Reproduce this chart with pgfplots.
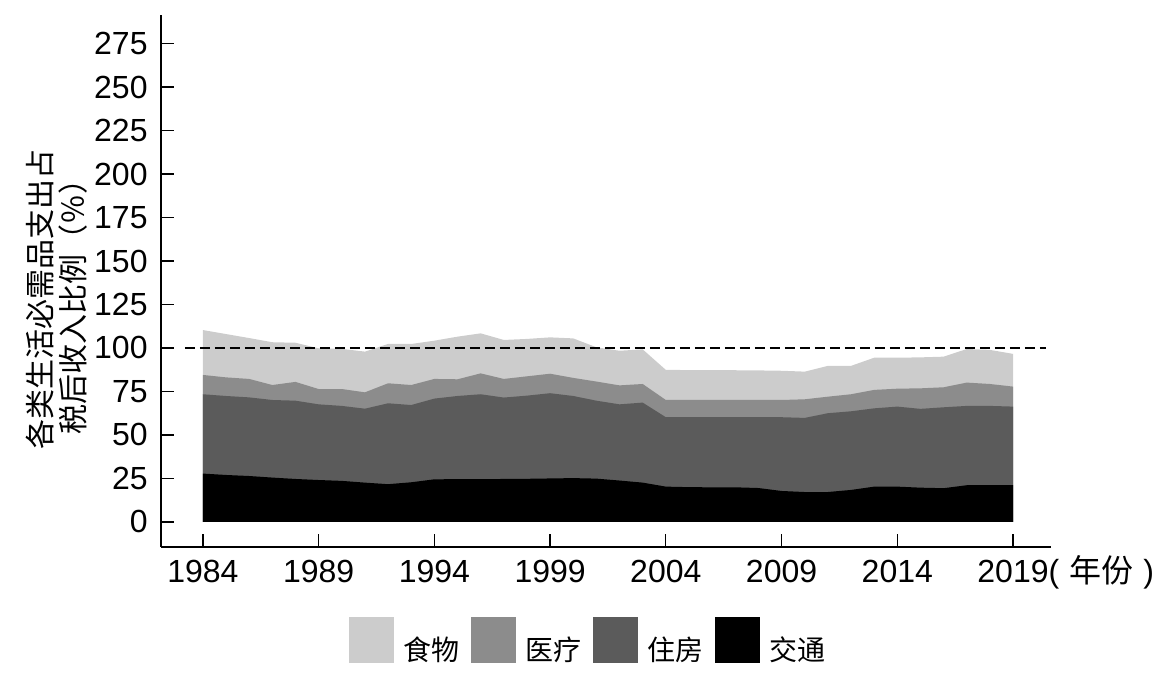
\documentclass[border=0pt]{standalone}
\usepackage{pgfplots}
\pgfplotsset{compat=1.18}
\usepackage{pgfplotstable}
\usepackage{fontspec}
\setmainfont{Liberation Sans}
\newfontfamily\cjk{Noto Sans CJK SC}
\definecolor{foodc}{RGB}{204,204,204}
\definecolor{medc}{RGB}{140,140,140}
\definecolor{housec}{RGB}{91,91,91}
\definecolor{transc}{RGB}{0,0,0}
\pgfplotstableread{
year food med house trans
1984 110.3 84.5 73.4 27.8
1985 108.0 83.1 72.4 27.0
1986 105.7 82.2 71.6 26.4
1987 103.3 78.7 70.1 25.5
1988 103.0 80.5 69.7 24.7
1989 99.8 76.4 67.6 24.1
1990 99.5 76.4 66.7 23.6
1991 97.9 74.5 65.1 22.6
1992 102.3 79.7 68.2 21.7
1993 102.3 78.7 67.2 22.8
1994 104.2 82.2 70.9 24.5
1995 106.5 82.0 72.4 24.6
1996 108.4 85.4 73.4 24.6
1997 104.6 82.2 71.5 24.7
1998 105.2 83.7 72.6 24.8
1999 106.1 85.2 74.0 25.0
2000 105.5 82.8 72.4 25.2
2001 100.4 80.7 69.7 24.9
2002 98.4 78.5 67.6 23.8
2003 99.2 79.3 68.6 22.6
2004 87.4 70.1 60.2 20.3
2005 87.3 70.1 60.2 20.0
2006 87.3 70.1 60.2 19.9
2007 87.2 70.1 60.2 19.9
2008 87.1 70.1 60.2 19.5
2009 86.9 70.1 60.2 17.8
2010 86.4 70.5 59.8 17.2
2011 89.7 72.0 62.5 17.2
2012 89.7 73.4 63.6 18.4
2013 94.4 75.9 65.3 20.3
2014 94.4 76.6 66.3 20.3
2015 94.6 76.8 65.0 19.7
2016 95.0 77.4 65.9 19.4
2017 99.4 80.1 66.7 21.1
2018 98.9 79.3 66.7 21.1
2019 96.6 77.8 66.3 21.1
}\data
\begin{document}
\begin{tikzpicture}
\path[use as bounding box] (-80.5pt,-69pt) rectangle (507pt,273.5pt);
\begin{axis}[
  at={(0pt,0pt)}, anchor=south west,
  scale only axis, width=445pt, height=266pt,
  xmin=1982.19, xmax=2020.64,
  ymin=-14.4, ymax=291.4,
  axis x line=bottom, axis y line=left,
  axis line style={-, line width=0.65pt},
  every tick/.style={line width=0.65pt, black},
  tick align=inside, major tick length=6.5pt,
  xtick={1984,1989,1994,1999,2004,2009,2014,2019},
  xticklabels={1984,1989,1994,1999,2004,2009,2014,{2019\rlap{\smash{(\hspace{5pt}{\cjk 年份}\hspace{5pt})}}}},
  ytick={0,25,50,75,100,125,150,175,200,225,250,275},
  /pgf/number format/assume math mode=true,
  tick label style={font=\fontsize{16}{19}\selectfont},
  xticklabel style={inner sep=0pt, anchor=north, yshift=-6.5pt},
  yticklabel style={inner sep=0pt, anchor=east, xshift=-6.5pt},
  ylabel={各类生活必需品支出占\\税后收入比例（％）},
  ylabel style={at={(axis description cs:-0.117,0.465)}, anchor=center, align=center, font=\cjk\fontsize{15}{16.5}\selectfont},
  legend columns=4,
  legend style={at={(axis description cs:0.4787,-0.1748)}, anchor=center, draw=none, fill=none,
    font=\cjk\fontsize{14}{17}\selectfont,
    nodes={inner sep=0pt},
    /tikz/every odd column/.append style={column sep=5pt},
    /tikz/every even column/.append style={column sep=5.5pt}},
  legend image code/.code={\fill[#1] (0pt,-6.2pt) rectangle (22.5pt,16.8pt);},
]
\addplot[fill=foodc, draw=none] table[x=year,y=food] {\data} \closedcycle;
\addlegendentry{食物}
\addplot[fill=medc, draw=none] table[x=year,y=med] {\data} \closedcycle;
\addlegendentry{医疗}
\addplot[fill=housec, draw=none] table[x=year,y=house] {\data} \closedcycle;
\addlegendentry{住房}
\addplot[fill=transc, draw=none] table[x=year,y=trans] {\data} \closedcycle;
\addlegendentry{交通}
\addplot[forget plot, black, line width=1pt, dash pattern=on 5pt off 2.5pt] coordinates {(1983.22,100) (2020.43,100)};
\end{axis}
\end{tikzpicture}
\end{document}
